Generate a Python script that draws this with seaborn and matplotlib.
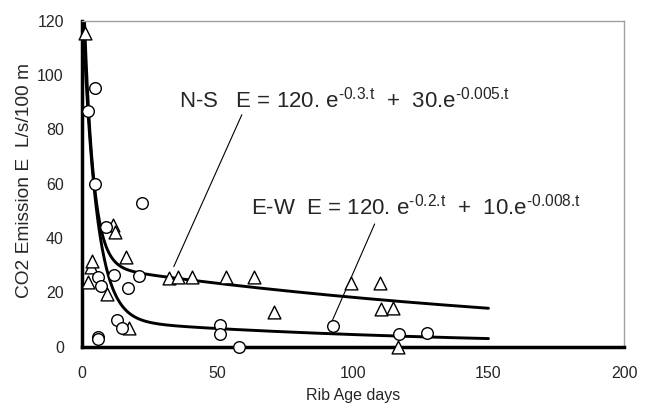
import numpy as np
import pandas as pd
import matplotlib
matplotlib.use("Agg")
import matplotlib.pyplot as plt
import seaborn as sns

# Measured emissions, N-S ribs (triangles)
ns_age = [1.1, 2.2, 3.3, 3.9, 9.2, 11.3, 12.1, 16.1, 17.3, 32.0, 35.4, 40.5,
          53.0, 63.6, 70.7, 99.2, 109.8, 110.2, 114.7, 116.6]
ns_emission = [115.4, 23.9, 29.4, 31.5, 19.6, 45.0, 42.1, 33.1, 6.8, 25.3, 25.8, 25.8,
               25.8, 25.8, 12.9, 23.3, 23.3, 13.8, 14.1, 0.0]

# Measured emissions, E-W ribs (circles)
ew_age = [2.1, 4.8, 4.8, 5.8, 5.9, 5.9, 6.9, 8.9, 11.7, 12.8, 14.9, 17.1, 21.0,
          22.0, 51.0, 51.0, 57.9, 92.8, 117.1, 127.3]
ew_emission = [86.9, 95.1, 59.8, 25.6, 3.5, 2.8, 22.2, 44.2, 26.5, 10.0, 6.8, 21.8, 25.9,
               52.8, 7.9, 4.6, 0.0, 7.7, 4.6, 4.9]

# Fitted model coefficients: E = a1*exp(-k1 t) + a2*exp(-k2 t)
ns_fit = dict(a1=120, k1=0.3, a2=30, k2=0.005)
ew_fit = dict(a1=120, k1=0.2, a2=10, k2=0.008)
fit_span = (0, 150)

x_ticks = [0, 50, 100, 150, 200]
y_ticks = [0, 20, 40, 60, 80, 100, 120]

sns.set_theme(style="white")
plt.rcParams["font.family"] = ["Liberation Sans", "DejaVu Sans"]
plt.rcParams["mathtext.fontset"] = "custom"
plt.rcParams["mathtext.rm"] = "Liberation Sans"
plt.rcParams["mathtext.default"] = "regular"

fig = plt.figure(figsize=(6.5, 4.07), dpi=100)
ax = fig.add_axes([0.126, 0.148, 0.834, 0.801])


def model(t, a1, k1, a2, k2):
    return a1 * np.exp(-k1 * t) + a2 * np.exp(-k2 * t)


t = np.linspace(fit_span[0], fit_span[1], 601)
curves = pd.concat([
    pd.DataFrame({"t": t, "E": model(t, **ns_fit), "orient": "N-S"}),
    pd.DataFrame({"t": t, "E": model(t, **ew_fit), "orient": "E-W"}),
])
sns.lineplot(data=curves, x="t", y="E", units="orient", estimator=None,
             color="black", linewidth=2.1, ax=ax, zorder=2)

ns = pd.DataFrame({"t": ns_age, "E": ns_emission})
ew = pd.DataFrame({"t": ew_age, "E": ew_emission})
sns.scatterplot(data=ns, x="t", y="E", marker="^", s=85, facecolor="white",
                edgecolor="black", linewidth=1.0, ax=ax, zorder=3, clip_on=False)
sns.scatterplot(data=ew, x="t", y="E", marker="o", s=70, facecolor="white",
                edgecolor="black", linewidth=1.0, ax=ax, zorder=3, clip_on=False)

# Equation labels with leader lines
ax.text(35.8, 91.0, r"N-S   E = 120. e$^{\text{-0.3.t}}$  +  30.e$^{\text{-0.005.t}}$",
        fontsize=16, va="center", ha="left")
ax.plot([59.0, 33.9], [85.4, 29.5], color="black", linewidth=0.8)
ax.text(62.5, 51.6, r"E-W  E = 120. e$^{\text{-0.2.t}}$  +  10.e$^{\text{-0.008.t}}$",
        fontsize=16, va="center", ha="left")
ax.plot([108.0, 92.2], [45.2, 9.2], color="black", linewidth=0.8)

ax.set_xlim(0, 200)
ax.set_ylim(0, 120)
ax.set_xticks(x_ticks)
ax.set_yticks(y_ticks)
ax.set_xlabel("Rib Age days", fontsize=11.5, labelpad=5)
ax.set_ylabel("CO2 Emission E  L/s/100 m", fontsize=13.8)
ax.yaxis.set_label_coords(-0.09, 0.511)
ax.tick_params(axis="both", direction="inout", length=8, width=2,
               color="black", labelsize=11.5)
ax.tick_params(axis="x", pad=10)
ax.tick_params(axis="y", pad=9)

for side in ("left", "bottom"):
    ax.spines[side].set_color("black")
    ax.spines[side].set_linewidth(2.5)
for side in ("top", "right"):
    ax.spines[side].set_color("#a0a0a0")
    ax.spines[side].set_linewidth(1.0)
ax.grid(False)

fig.savefig("out.png", dpi=100)
